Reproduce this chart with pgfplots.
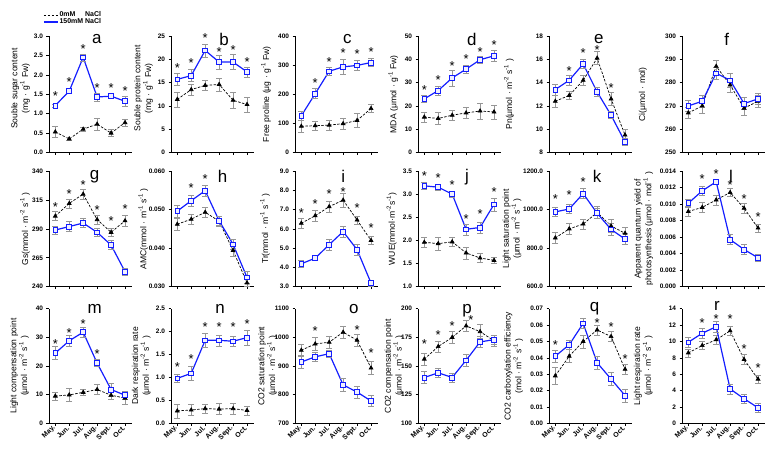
\documentclass[border=0pt]{standalone}
\usepackage{pgfplots}
\pgfplotsset{compat=1.18}
\usepackage{fontspec}
\setmainfont{Liberation Sans}
\newcommand\ticfont{\fontsize{6.5}{7}\selectfont\bfseries}
\newcommand\xticfont{\fontsize{7}{7}\selectfont\bfseries}
\newcommand\labfont{\fontsize{8.6}{9.2}\selectfont}
\newcommand\letfont{\fontsize{17}{17}\selectfont}
\newcommand\starfont{\fontsize{13}{13}\selectfont}
\newcommand\legfont{\fontsize{7}{7.5}\selectfont\bfseries}
\newcommand\sups[1]{\textsuperscript{#1}}
\definecolor{errc}{RGB}{150,150,150}
\definecolor{sblue}{RGB}{20,30,255}
\pgfplotsset{
  panel/.style={scale only axis, width=83bp, xmin=0.55, xmax=6.5,
    xtick={1,2,3,4,5,6}, xticklabels={}, scaled ticks=false,
    axis x line*=bottom, axis y line*=left,
    axis line style={line width=0.6pt,-}, tick style={line width=0.6pt,black},
    tick align=outside, major tick length=2.5bp,
    tick label style={font=\ticfont},
    /pgf/number format/assume math mode=true, /pgf/number format/1000 sep={},
    ylabel style={font=\labfont, align=center, anchor=center},
    anchor=south west, clip=false},
  bottomrow/.style={xticklabels={May.,Jun.,Jul.,Aug.,Sept.,Oct.},
    x tick label style={rotate=45, anchor=east, font=\xticfont, inner sep=1.5pt}},
  ctrl/.style={black, line width=0.7pt, dash pattern=on 2.5bp off 1.5bp,
    mark=triangle*, mark size=2.2pt, mark options={solid, fill=black},
    error bars/.cd, y dir=both, y explicit,
    error bar style={errc, solid, line width=0.5pt},
    error mark options={errc, solid, rotate=90, mark size=2.8pt, line width=0.5pt}},
  salt/.style={sblue, solid, line width=1.2pt,
    mark=square*, mark size=2.4pt, mark options={fill=blue!6, draw=sblue, line width=0.7pt},
    error bars/.cd, y dir=both, y explicit,
    error bar style={errc, solid, line width=0.5pt},
    error mark options={errc, solid, rotate=90, mark size=2.8pt, line width=0.5pt}},
  stars/.style={only marks, black, mark=text, text mark={\starfont *}},
  p0/.style={yticklabel style={/pgf/number format/fixed, /pgf/number format/fixed zerofill, /pgf/number format/precision=0}},
  p1/.style={yticklabel style={/pgf/number format/fixed, /pgf/number format/fixed zerofill, /pgf/number format/precision=1}},
  p2/.style={yticklabel style={/pgf/number format/fixed, /pgf/number format/fixed zerofill, /pgf/number format/precision=2}},
  p3/.style={yticklabel style={/pgf/number format/fixed, /pgf/number format/fixed zerofill, /pgf/number format/precision=3}},
}
\begin{document}
\begin{tikzpicture}
\useasboundingbox (0,0) rectangle (781bp,452bp);
%% ---------------- row 1 ----------------
% a
\begin{axis}[panel, p1, at={(49bp,299.5bp)}, height=116.5bp,
  ymin=0, ymax=3, ytick={0,0.5,1,1.5,2,2.5,3},
  ylabel={Souble sugar content\\(mg · g\sups{-1} Fw)},
  ylabel style={at={(axis description cs:-0.343,0.55)}},
  legend image code/.code={\draw[#1] (0bp,0bp) -- (14bp,0bp);},
  legend style={at={(-0.072,1.22)}, anchor=north west, draw=none, fill=none,
    font=\legfont, inner sep=0pt, row sep=-2pt, nodes={inner sep=1.2pt}},
  legend cell align=left]
\addlegendimage{black, line width=0.8pt, dash pattern=on 2.5bp off 1.5bp}
\addlegendimage{sblue, line width=1.2pt}
\addplot[ctrl] coordinates {(1,0.53)+-(0,0.15) (2,0.35)+-(0,0.03) (3,0.60)+-(0,0.05) (4,0.73)+-(0,0.16) (5,0.50)+-(0,0.09) (6,0.77)+-(0,0.09)};
\addplot[salt] coordinates {(1,1.21)+-(0,0.04) (2,1.58)+-(0,0.05) (3,2.45)+-(0,0.09) (4,1.43)+-(0,0.10) (5,1.45)+-(0,0.06) (6,1.32)+-(0,0.14)};
\addplot[stars] coordinates {(1,1.45) (2,1.82) (3,2.66) (4,1.67) (5,1.66) (6,1.57)};
\legend{0mM\phantom{15} NaCl, 150mM NaCl}
\node[font=\letfont] at (rel axis cs:0.575,0.97) {a};
\end{axis}
% b
\begin{axis}[panel, p0, at={(171bp,299.5bp)}, height=116.5bp,
  ymin=0, ymax=25, ytick={0,5,10,15,20,25},
  ylabel={Souble protein content\\(mg · g\sups{-1} Fw)},
  ylabel style={at={(axis description cs:-0.33,0.55)}}]
\addplot[ctrl] coordinates {(1,11.4)+-(0,1.6) (2,13.5)+-(0,1.2) (3,14.4)+-(0,1.0) (4,14.6)+-(0,1.4) (5,11.2)+-(0,1.7) (6,10.3)+-(0,1.6)};
\addplot[salt] coordinates {(1,15.7)+-(0,1.3) (2,16.5)+-(0,1.3) (3,21.9)+-(0,1.4) (4,19.4)+-(0,1.5) (5,19.4)+-(0,1.6) (6,17.3)+-(0,1.1)};
\addplot[stars] coordinates {(1,18.2) (2,19.2) (3,24.5) (4,21.6) (5,21.9) (6,19.5)};
\node[font=\letfont] at (rel axis cs:0.64,0.97) {b};
\end{axis}
% c
\begin{axis}[panel, p0, at={(295bp,299.5bp)}, height=116.5bp,
  ymin=0, ymax=400, ytick={0,100,200,300,400},
  ylabel={Free proline (μg · g\sups{-1} Fw)},
  ylabel style={at={(axis description cs:-0.349,0.5)}}]
\addplot[ctrl] coordinates {(1,90)+-(0,20) (2,92)+-(0,14) (3,94)+-(0,18) (4,99)+-(0,20) (5,110)+-(0,25) (6,151)+-(0,14)};
\addplot[salt] coordinates {(1,126)+-(0,14) (2,202)+-(0,17) (3,279)+-(0,14) (4,294)+-(0,27) (5,299)+-(0,17) (6,309)+-(0,14)};
\addplot[stars] coordinates {(2,238) (3,310) (4,340) (5,339) (6,345)};
\node[font=\letfont] at (rel axis cs:0.63,0.97) {c};
\end{axis}
% d
\begin{axis}[panel, p0, at={(418bp,299.5bp)}, height=116.5bp,
  ymin=0, ymax=50, ytick={0,10,20,30,40,50},
  ylabel={MDA (μmol · g\sups{-1} Fw)},
  ylabel style={at={(axis description cs:-0.298,0.5)}}]
\addplot[ctrl] coordinates {(1,15.2)+-(0,2.1) (2,14.6)+-(0,2.5) (3,16.0)+-(0,2.1) (4,17.0)+-(0,2.4) (5,17.8)+-(0,3.4) (6,17.4)+-(0,3.0)};
\addplot[salt] coordinates {(1,23.0)+-(0,1.5) (2,26.6)+-(0,1.9) (3,32.0)+-(0,3.4) (4,35.8)+-(0,1.6) (5,39.8)+-(0,1.6) (6,41.5)+-(0,2.5)};
\addplot[stars] coordinates {(1,26.8) (2,31.1) (3,37.2) (4,40.0) (5,43.3) (6,46.3)};
\node[font=\letfont] at (rel axis cs:0.65,0.97) {d};
\end{axis}
% e
\begin{axis}[panel, p0, at={(549bp,299.5bp)}, height=116.5bp,
  ymin=8, ymax=18, ytick={8,10,12,14,16,18},
  ylabel={Pn(μmol · m\sups{-2} s\sups{-1} )},
  ylabel style={at={(axis description cs:-0.482,0.5)}}]
\addplot[ctrl] coordinates {(1,12.4)+-(0,0.5) (2,12.9)+-(0,0.35) (3,14.2)+-(0,0.4) (4,16.1)+-(0,0.55) (5,12.6)+-(0,0.55) (6,9.5)+-(0,0.5)};
\addplot[salt] coordinates {(1,13.4)+-(0,0.5) (2,14.2)+-(0,0.4) (3,15.6)+-(0,0.4) (4,13.2)+-(0,0.4) (5,11.2)+-(0,0.3) (6,8.9)+-(0,0.3)};
\addplot[stars] coordinates {(2,15.0) (3,16.5) (4,16.8) (5,13.5)};
\node[font=\letfont] at (rel axis cs:0.60,0.97) {e};
\end{axis}
% f
\begin{axis}[panel, p0, at={(682bp,299.5bp)}, height=116.5bp,
  ymin=250, ymax=300, ytick={250,260,270,280,290,300},
  ylabel={Ci(μmol · mol)},
  ylabel style={at={(axis description cs:-0.47,0.5)}}]
\addplot[ctrl] coordinates {(1,267)+-(0,2.5) (2,270)+-(0,3) (3,287)+-(0,2.5) (4,279)+-(0,3) (5,269)+-(0,3) (6,272)+-(0,2.5)};
\addplot[salt] coordinates {(1,270)+-(0,2.5) (2,272)+-(0,2.5) (3,284)+-(0,2.5) (4,281)+-(0,3) (5,271)+-(0,2.5) (6,273)+-(0,2.5)};
\node[font=\letfont] at (rel axis cs:0.54,0.97) {f};
\end{axis}
%% ---------------- row 2 ----------------
% g
\begin{axis}[panel, p0, at={(49bp,165.3bp)}, height=115.7bp,
  ymin=240, ymax=340, ytick={240,265,290,315,340},
  ylabel={Gs(mmol · m\sups{-2} s\sups{-1} )},
  ylabel style={at={(axis description cs:-0.289,0.5)}}]
\addplot[ctrl] coordinates {(1,301)+-(0,4) (2,312)+-(0,4) (3,320)+-(0,4) (4,298)+-(0,4) (5,287)+-(0,3.5) (6,297)+-(0,5)};
\addplot[salt] coordinates {(1,289)+-(0,3.5) (2,292)+-(0,4.5) (3,295)+-(0,4) (4,287)+-(0,3.5) (5,276)+-(0,4) (6,253)+-(0,3)};
\addplot[stars] coordinates {(1,309) (2,320) (3,328) (4,306) (5,297) (6,307)};
\node[font=\letfont] at (rel axis cs:0.55,0.95) {g};
\end{axis}
% h
\begin{axis}[panel, p3, at={(171bp,165.3bp)}, height=115.7bp,
  ymin=0.03, ymax=0.06, ytick={0.03,0.04,0.05,0.06},
  ylabel={AMC(mmol · m\sups{-1} s\sups{-1} )},
  ylabel style={at={(axis description cs:-0.334,0.5)}}]
\addplot[ctrl] coordinates {(1,0.0462)+-(0,0.0015) (2,0.0475)+-(0,0.0013) (3,0.0493)+-(0,0.0012) (4,0.0470)+-(0,0.0012) (5,0.0394)+-(0,0.0015) (6,0.0310)+-(0,0.0010)};
\addplot[salt] coordinates {(1,0.0496)+-(0,0.0015) (2,0.0523)+-(0,0.0015) (3,0.0549)+-(0,0.0015) (4,0.0471)+-(0,0.0012) (5,0.0410)+-(0,0.0012) (6,0.0324)+-(0,0.0015)};
\addplot[stars] coordinates {(2,0.0556) (3,0.0580)};
\node[font=\letfont] at (rel axis cs:0.62,0.95) {h};
\end{axis}
% i
\begin{axis}[panel, p1, at={(295bp,165.3bp)}, height=115.7bp,
  ymin=3, ymax=9, ytick={3,4,5,6,7,8,9},
  ylabel={Tr(mmol · m\sups{-1} s\sups{-1} )},
  ylabel style={at={(axis description cs:-0.361,0.5)}}]
\addplot[ctrl] coordinates {(1,6.29)+-(0,0.25) (2,6.68)+-(0,0.28) (3,7.15)+-(0,0.3) (4,7.49)+-(0,0.35) (5,6.46)+-(0,0.2) (6,5.40)+-(0,0.2)};
\addplot[salt] coordinates {(1,4.19)+-(0,0.18) (2,4.48)+-(0,0.1) (3,5.18)+-(0,0.3) (4,5.86)+-(0,0.3) (5,4.92)+-(0,0.3) (6,3.19)+-(0,0.15)};
\addplot[stars] coordinates {(1,6.84) (2,7.30) (3,7.78) (4,7.93) (5,7.08) (6,6.02)};
\node[font=\letfont] at (rel axis cs:0.58,0.95) {i};
\end{axis}
% j
\begin{axis}[panel, p1, at={(418bp,165.3bp)}, height=115.7bp,
  ymin=1, ymax=3.5, ytick={1,1.5,2,2.5,3,3.5},
  ylabel={WUE(mmol·m\sups{-2}s\sups{-1})},
  ylabel style={at={(axis description cs:-0.317,0.5)}}]
\addplot[ctrl] coordinates {(1,1.96)+-(0,0.1) (2,1.93)+-(0,0.14) (3,1.97)+-(0,0.1) (4,1.73)+-(0,0.13) (5,1.62)+-(0,0.1) (6,1.57)+-(0,0.06)};
\addplot[salt] coordinates {(1,3.18)+-(0,0.07) (2,3.15)+-(0,0.06) (3,3.00)+-(0,0.06) (4,2.24)+-(0,0.12) (5,2.28)+-(0,0.12) (6,2.78)+-(0,0.14)};
\addplot[stars] coordinates {(1,3.39) (2,3.35) (3,3.19) (4,2.46) (5,2.56) (6,3.04)};
\node[font=\letfont] at (rel axis cs:0.59,0.95) {j};
\end{axis}
% k
\begin{axis}[panel, p1, at={(549bp,165.3bp)}, height=115.7bp,
  ymin=600, ymax=1200, ytick={600,800,1000,1200},
  ylabel={Light saturation point\\(μmol · m\sups{-2} s\sups{-1} )},
  ylabel style={at={(axis description cs:-0.446,0.5)}}]
\addplot[ctrl] coordinates {(1,853)+-(0,30) (2,900)+-(0,30) (3,925)+-(0,25) (4,985)+-(0,30) (5,915)+-(0,35) (6,877)+-(0,30)};
\addplot[salt] coordinates {(1,988)+-(0,25) (2,1003)+-(0,22) (3,1083)+-(0,25) (4,981)+-(0,25) (5,897)+-(0,30) (6,847)+-(0,28)};
\addplot[stars] coordinates {(1,1057) (2,1074) (3,1143)};
\node[font=\letfont] at (rel axis cs:0.58,0.95) {k};
\end{axis}
% l
\begin{axis}[panel, p3, at={(682bp,165.3bp)}, height=115.7bp,
  ymin=0, ymax=0.014, ytick={0,0.002,0.004,0.006,0.008,0.010,0.012,0.014},
  ylabel={Apparent quantum yield of\\photosynthesis (μmol · mol\sups{-1} )},
  ylabel style={at={(axis description cs:-0.461,0.5)}}]
\addplot[ctrl] coordinates {(1,0.0091)+-(0,0.0006) (2,0.0096)+-(0,0.0006) (3,0.0105)+-(0,0.0006) (4,0.0114)+-(0,0.0005) (5,0.0095)+-(0,0.0006) (6,0.0071)+-(0,0.0005)};
\addplot[salt] coordinates {(1,0.0101)+-(0,0.0005) (2,0.0116)+-(0,0.0005) (3,0.0127)+-(0,0.0003) (4,0.0057)+-(0,0.0006) (5,0.0045)+-(0,0.0006) (6,0.0035)+-(0,0.0004)};
\addplot[stars] coordinates {(2,0.0130) (3,0.0136) (4,0.0123) (5,0.0106) (6,0.0084)};
\node[font=\letfont] at (rel axis cs:0.59,0.95) {l};
\end{axis}
%% ---------------- row 3 ----------------
% m
\begin{axis}[panel, p0, bottomrow, at={(49bp,28.7bp)}, height=114.6bp,
  ymin=0, ymax=40, ytick={0,10,20,30,40},
  ylabel={Light compensation point\\(μmol · m\sups{-2} s\sups{-1} )},
  ylabel style={at={(axis description cs:-0.355,0.5)}}]
\addplot[ctrl] coordinates {(1,9.5)+-(0,1.5) (2,9.9)+-(0,2.3) (3,10.8)+-(0,1.0) (4,11.8)+-(0,1.8) (5,9.8)+-(0,1.5) (6,8.8)+-(0,2.2)};
\addplot[salt] coordinates {(1,24.5)+-(0,2.3) (2,28.8)+-(0,1.8) (3,31.8)+-(0,1.8) (4,21.0)+-(0,1.2) (5,11.8)+-(0,2.3) (6,9.8)+-(0,1.5)};
\addplot[stars] coordinates {(1,27.5) (2,31.5) (3,34.5) (4,24.0)};
\node[font=\letfont] at (rel axis cs:0.55,1.0) {m};
\end{axis}
% n
\begin{axis}[panel, p1, bottomrow, at={(171bp,28.7bp)}, height=114.6bp,
  ymin=0, ymax=2.5, ytick={0,0.5,1,1.5,2,2.5},
  ylabel={Dark respiration rate\\(μmol · m\sups{-2} s\sups{-1} )},
  ylabel style={at={(axis description cs:-0.359,0.5)}}]
\addplot[ctrl] coordinates {(1,0.27)+-(0,0.15) (2,0.29)+-(0,0.12) (3,0.32)+-(0,0.1) (4,0.31)+-(0,0.12) (5,0.32)+-(0,0.12) (6,0.28)+-(0,0.1)};
\addplot[salt] coordinates {(1,0.98)+-(0,0.08) (2,1.09)+-(0,0.15) (3,1.81)+-(0,0.15) (4,1.81)+-(0,0.12) (5,1.79)+-(0,0.1) (6,1.87)+-(0,0.17)};
\addplot[stars] coordinates {(1,1.23) (2,1.41) (3,2.11) (4,2.11) (5,2.09) (6,2.16)};
\node[font=\letfont] at (rel axis cs:0.59,1.0) {n};
\end{axis}
% o
\begin{axis}[panel, p0, bottomrow, at={(295bp,28.7bp)}, height=114.6bp,
  ymin=700, ymax=1100, ytick={700,800,900,1000,1100},
  ylabel={CO2 saturation point\\(μmol · m\sups{-2} s\sups{-1} )},
  ylabel style={at={(axis description cs:-0.331,0.5)}}]
\addplot[ctrl] coordinates {(1,955)+-(0,20) (2,977)+-(0,22) (3,983)+-(0,20) (4,1018)+-(0,20) (5,990)+-(0,22) (6,893)+-(0,22)};
\addplot[salt] coordinates {(1,914)+-(0,22) (2,932)+-(0,15) (3,943)+-(0,12) (4,834)+-(0,22) (5,809)+-(0,20) (6,778)+-(0,20)};
\addplot[stars] coordinates {(2,1022) (5,1025) (6,945)};
\node[font=\letfont] at (rel axis cs:0.71,1.0) {o};
\end{axis}
% p
\begin{axis}[panel, p0, bottomrow, at={(418bp,28.7bp)}, height=114.6bp,
  ymin=100, ymax=200, ytick={100,125,150,175,200},
  ylabel={CO2 compensation point\\(μmol · m\sups{-2} s\sups{-1} )},
  ylabel style={at={(axis description cs:-0.29,0.5)}}]
\addplot[ctrl] coordinates {(1,156)+-(0,5) (2,167)+-(0,5) (3,175)+-(0,5) (4,185)+-(0,5) (5,180)+-(0,6) (6,172)+-(0,5)};
\addplot[salt] coordinates {(1,140)+-(0,5) (2,144)+-(0,4) (3,140)+-(0,4) (4,155)+-(0,5) (5,171)+-(0,5) (6,173)+-(0,4)};
\addplot[stars] coordinates {(1,169) (2,177) (3,185) (4.35,190)};
\node[font=\letfont] at (rel axis cs:0.59,0.98) {p};
\end{axis}
% q
\begin{axis}[panel, p2, bottomrow, at={(549bp,28.7bp)}, height=114.6bp,
  ymin=0, ymax=0.07, ytick={0,0.01,0.02,0.03,0.04,0.05,0.06,0.07},
  ylabel={CO2 carboxylation efficiency\\(mol · m\sups{-2} s\sups{-1} )},
  ylabel style={at={(axis description cs:-0.424,0.5)}}]
\addplot[ctrl] coordinates {(1,0.029)+-(0,0.005) (2,0.041)+-(0,0.004) (3,0.050)+-(0,0.004) (4,0.057)+-(0,0.003) (5,0.053)+-(0,0.003) (6,0.033)+-(0,0.003)};
\addplot[salt] coordinates {(1,0.041)+-(0,0.0035) (2,0.048)+-(0,0.003) (3,0.061)+-(0,0.003) (4,0.037)+-(0,0.004) (5,0.027)+-(0,0.004) (6,0.017)+-(0,0.004)};
\addplot[stars] coordinates {(1,0.048) (4,0.061) (5,0.059) (6,0.039)};
\node[font=\letfont] at (rel axis cs:0.55,1.0) {q};
\end{axis}
% r
\begin{axis}[panel, p0, bottomrow, at={(682bp,28.7bp)}, height=114.6bp,
  ymin=0, ymax=14, ytick={0,2,4,6,8,10,12,14},
  ylabel={Light respiration rate\\(μmol · m\sups{-2} s\sups{-1} )},
  ylabel style={at={(axis description cs:-0.466,0.5)}}]
\addplot[ctrl] coordinates {(1,8.6)+-(0,0.5) (2,9.5)+-(0,0.5) (3,10.2)+-(0,0.5) (4,11.3)+-(0,0.6) (5,7.8)+-(0,0.6) (6,5.4)+-(0,0.5)};
\addplot[salt] coordinates {(1,9.9)+-(0,0.6) (2,11.0)+-(0,0.6) (3,11.8)+-(0,0.7) (4,4.2)+-(0,0.6) (5,3.0)+-(0,0.6) (6,1.9)+-(0,0.5)};
\addplot[stars] coordinates {(2,12.2) (3,12.7) (4,12.7) (5,9.1) (6,6.8)};
\node[font=\letfont] at (rel axis cs:0.42,1.02) {r};
\end{axis}
\end{tikzpicture}
\end{document}
